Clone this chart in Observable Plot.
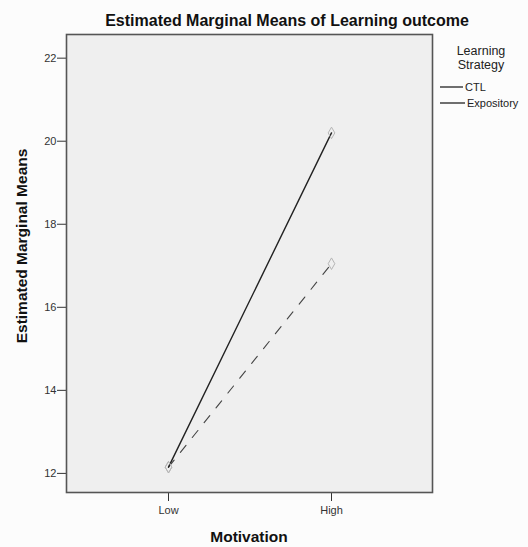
<!DOCTYPE html>
<html>
<head>
<meta charset="utf-8">
<script src="https://cdn.jsdelivr.net/npm/d3@7"></script>
<script src="https://cdn.jsdelivr.net/npm/@observablehq/plot@0.6"></script>
<style>
  body { margin: 0; background: #fcfcfc; }
  #chart svg { display: block; }
</style>
</head>
<body>
<div id="chart"></div>
<script>
const motivation = ["Low", "High"];
const strategies = ["CTL", "Expository"];
const ctlMeans = [12.15, 20.2];
const expositoryMeans = [12.15, 17.05];
const yTicks = [12, 14, 16, 18, 20, 22];

const rows = [];
motivation.forEach((m, i) => {
  rows.push({motivation: m, strategy: "CTL", mean: ctlMeans[i]});
  rows.push({motivation: m, strategy: "Expository", mean: expositoryMeans[i]});
});

const W = 528, H = 547;
const font = "Liberation Sans, Arial, sans-serif";

const plot = Plot.plot({
  width: W,
  height: H,
  marginLeft: 66,
  marginRight: 96,
  marginTop: 34,
  marginBottom: 55,
  style: {background: "#fcfcfc", fontFamily: font, fontSize: "11px", color: "#222"},
  x: {type: "point", domain: motivation, padding: 0.616, label: null},
  y: {domain: [11.54, 22.57], label: null},
  marks: [
    Plot.frame({fill: "#efefef", stroke: "none"}),
    Plot.axisY({ticks: yTicks, tickSize: 9, tickPadding: 1, tickFormat: d => String(d), stroke: "#333", fill: "#333", fontSize: 11}),
    Plot.axisX({tickSize: 9, tickPadding: 5, stroke: "#333", fill: "#333", fontSize: 11}),
    Plot.line(rows.filter(d => d.strategy === "Expository"), {x: "motivation", y: "mean", stroke: "#444", strokeWidth: 1.1, strokeDasharray: "9,10"}),
    Plot.line(rows.filter(d => d.strategy === "CTL"), {x: "motivation", y: "mean", stroke: "#222", strokeWidth: 1.4}),
    Plot.dot(rows, {x: "motivation", y: "mean", symbol: "diamond", r: 3.5, stroke: "#b5b5b5", strokeWidth: 1, fill: "none"}),
    Plot.frame({stroke: "#555", strokeWidth: 1.6})
  ]
});

const svg = d3.select(plot);
// title
svg.append("text").attr("x", 287).attr("y", 26).attr("text-anchor", "middle")
  .attr("font-family", font).attr("font-weight", "bold").attr("font-size", 16).attr("fill", "#111")
  .text("Estimated Marginal Means of Learning outcome");
// y axis label
svg.append("text").attr("transform", "translate(27,246) rotate(-90)").attr("text-anchor", "middle")
  .attr("font-family", font).attr("font-weight", "bold").attr("font-size", 15.5).attr("fill", "#111")
  .text("Estimated Marginal Means");
// x axis label
svg.append("text").attr("x", 249).attr("y", 542).attr("text-anchor", "middle")
  .attr("font-family", font).attr("font-weight", "bold").attr("font-size", 15.5).attr("fill", "#111")
  .text("Motivation");
// legend
const lg = svg.append("g").attr("font-family", font).attr("fill", "#222");
lg.append("text").attr("x", 481).attr("y", 55).attr("text-anchor", "middle").attr("font-size", 12.5).text("Learning");
lg.append("text").attr("x", 481).attr("y", 69).attr("text-anchor", "middle").attr("font-size", 12.5).text("Strategy");
const legendY = [87, 103];
const legendX2 = [463, 465];
strategies.forEach((s, i) => {
  lg.append("line").attr("x1", 440).attr("x2", legendX2[i]).attr("y1", legendY[i]).attr("y2", legendY[i])
    .attr("stroke", "#222").attr("stroke-width", 1.3);
  lg.append("text").attr("x", legendX2[i] + 2).attr("y", legendY[i] + 4).attr("text-anchor", "start")
    .attr("font-size", 11).text(s);
});

document.getElementById("chart").appendChild(plot);
</script>
</body>
</html>
